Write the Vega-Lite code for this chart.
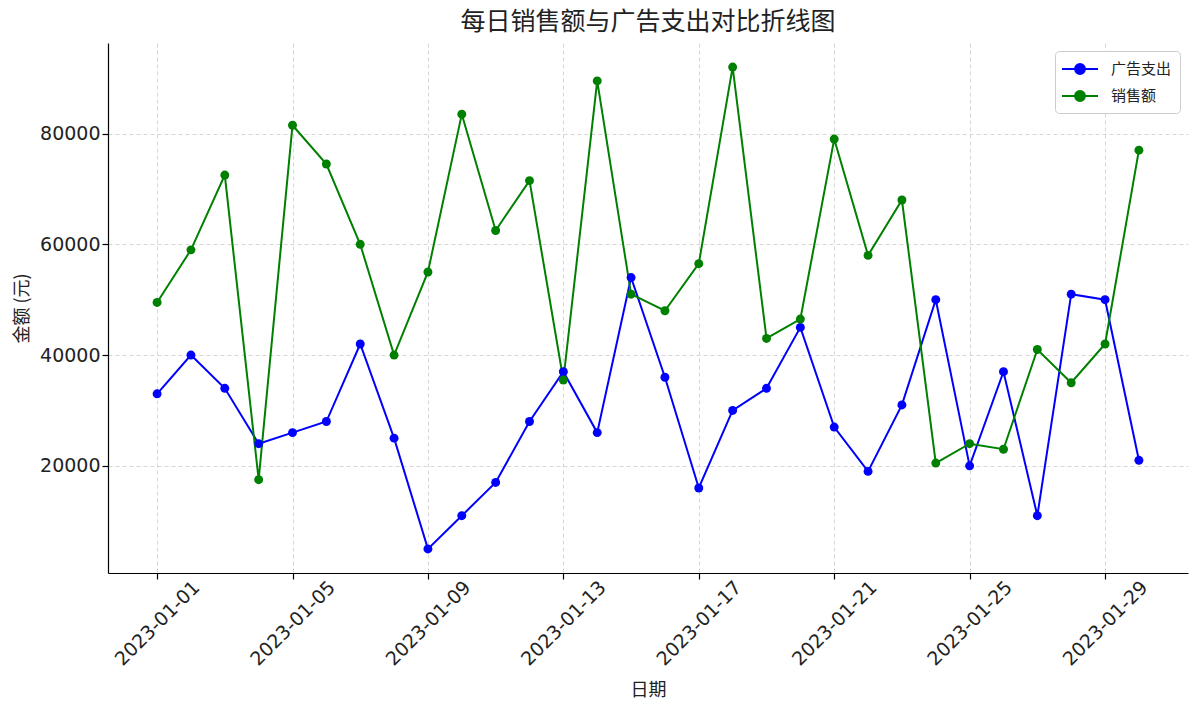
{
  "$schema": "https://vega.github.io/schema/vega-lite/v6.json",
  "autosize": "none",
  "width": 1080,
  "height": 530,
  "padding": {"left": 108, "top": 43, "right": 12, "bottom": 143},
  "background": "white",
  "title": {
    "text": "每日销售额与广告支出对比折线图",
    "fontSize": 25,
    "fontWeight": "normal",
    "color": "#222222",
    "offset": 8,
    "font": "Noto Sans CJK SC"
  },
  "config": {
    "font": "DejaVu Sans",
    "view": {"stroke": null},
    "axis": {
      "labelFontSize": 19,
      "labelColor": "#222222",
      "titleFontSize": 18,
      "titleFontWeight": "normal",
      "titleColor": "#222222",
      "titleFont": "Noto Sans CJK SC",
      "domainColor": "black",
      "domainWidth": 1.2,
      "tickColor": "black",
      "tickSize": 6,
      "tickWidth": 1.2,
      "gridColor": "#cccccc",
      "gridDash": [4, 3],
      "gridWidth": 0.8
    }
  },
  "data": {
    "values": [
      {"date": "2023-01-01", "series": "广告支出", "value": 33000},
      {"date": "2023-01-02", "series": "广告支出", "value": 40000},
      {"date": "2023-01-03", "series": "广告支出", "value": 34000},
      {"date": "2023-01-04", "series": "广告支出", "value": 24000},
      {"date": "2023-01-05", "series": "广告支出", "value": 26000},
      {"date": "2023-01-06", "series": "广告支出", "value": 28000},
      {"date": "2023-01-07", "series": "广告支出", "value": 42000},
      {"date": "2023-01-08", "series": "广告支出", "value": 25000},
      {"date": "2023-01-09", "series": "广告支出", "value": 5000},
      {"date": "2023-01-10", "series": "广告支出", "value": 11000},
      {"date": "2023-01-11", "series": "广告支出", "value": 17000},
      {"date": "2023-01-12", "series": "广告支出", "value": 28000},
      {"date": "2023-01-13", "series": "广告支出", "value": 37000},
      {"date": "2023-01-14", "series": "广告支出", "value": 26000},
      {"date": "2023-01-15", "series": "广告支出", "value": 54000},
      {"date": "2023-01-16", "series": "广告支出", "value": 36000},
      {"date": "2023-01-17", "series": "广告支出", "value": 16000},
      {"date": "2023-01-18", "series": "广告支出", "value": 30000},
      {"date": "2023-01-19", "series": "广告支出", "value": 34000},
      {"date": "2023-01-20", "series": "广告支出", "value": 45000},
      {"date": "2023-01-21", "series": "广告支出", "value": 27000},
      {"date": "2023-01-22", "series": "广告支出", "value": 19000},
      {"date": "2023-01-23", "series": "广告支出", "value": 31000},
      {"date": "2023-01-24", "series": "广告支出", "value": 50000},
      {"date": "2023-01-25", "series": "广告支出", "value": 20000},
      {"date": "2023-01-26", "series": "广告支出", "value": 37000},
      {"date": "2023-01-27", "series": "广告支出", "value": 11000},
      {"date": "2023-01-28", "series": "广告支出", "value": 51000},
      {"date": "2023-01-29", "series": "广告支出", "value": 50000},
      {"date": "2023-01-30", "series": "广告支出", "value": 21000},
      {"date": "2023-01-01", "series": "销售额", "value": 49500},
      {"date": "2023-01-02", "series": "销售额", "value": 59000},
      {"date": "2023-01-03", "series": "销售额", "value": 72500},
      {"date": "2023-01-04", "series": "销售额", "value": 17500},
      {"date": "2023-01-05", "series": "销售额", "value": 81500},
      {"date": "2023-01-06", "series": "销售额", "value": 74500},
      {"date": "2023-01-07", "series": "销售额", "value": 60000},
      {"date": "2023-01-08", "series": "销售额", "value": 40000},
      {"date": "2023-01-09", "series": "销售额", "value": 55000},
      {"date": "2023-01-10", "series": "销售额", "value": 83500},
      {"date": "2023-01-11", "series": "销售额", "value": 62500},
      {"date": "2023-01-12", "series": "销售额", "value": 71500},
      {"date": "2023-01-13", "series": "销售额", "value": 35500},
      {"date": "2023-01-14", "series": "销售额", "value": 89500},
      {"date": "2023-01-15", "series": "销售额", "value": 51000},
      {"date": "2023-01-16", "series": "销售额", "value": 48000},
      {"date": "2023-01-17", "series": "销售额", "value": 56500},
      {"date": "2023-01-18", "series": "销售额", "value": 92000},
      {"date": "2023-01-19", "series": "销售额", "value": 43000},
      {"date": "2023-01-20", "series": "销售额", "value": 46500},
      {"date": "2023-01-21", "series": "销售额", "value": 79000},
      {"date": "2023-01-22", "series": "销售额", "value": 58000},
      {"date": "2023-01-23", "series": "销售额", "value": 68000},
      {"date": "2023-01-24", "series": "销售额", "value": 20500},
      {"date": "2023-01-25", "series": "销售额", "value": 24000},
      {"date": "2023-01-26", "series": "销售额", "value": 23000},
      {"date": "2023-01-27", "series": "销售额", "value": 41000},
      {"date": "2023-01-28", "series": "销售额", "value": 35000},
      {"date": "2023-01-29", "series": "销售额", "value": 42000},
      {"date": "2023-01-30", "series": "销售额", "value": 77000}
    ]
  },
  "mark": {
    "type": "line",
    "strokeWidth": 2,
    "point": {"filled": true, "size": 80, "opacity": 1}
  },
  "encoding": {
    "x": {
      "field": "date",
      "type": "temporal",
      "title": "日期",
      "scale": {
        "type": "utc",
        "domain": [
          {"year": 2022, "month": 12, "date": 30, "hours": 13, "minutes": 12, "utc": true},
          {"year": 2023, "month": 1, "date": 31, "hours": 10, "minutes": 48, "utc": true}
        ]
      },
      "axis": {
        "format": "%Y-%m-%d",
        "labelAngle": -45,
        "labelAlign": "center",
        "labelBaseline": "middle",
        "labelPadding": 44,
        "titlePadding": 12,
        "tickCount": {"interval": "day", "step": 4},
        "grid": true
      }
    },
    "y": {
      "field": "value",
      "type": "quantitative",
      "title": "金额 (元)",
      "scale": {"domain": [650, 96350], "nice": false, "zero": false},
      "axis": {
        "values": [20000, 40000, 60000, 80000],
        "format": "d",
        "titlePadding": 8,
        "grid": true
      }
    },
    "color": {
      "field": "series",
      "type": "nominal",
      "scale": {"domain": ["广告支出", "销售额"], "range": ["#0000ff", "#008000"]},
      "legend": {
        "title": null,
        "orient": "top-right",
        "offset": 8,
        "labelFont": "Noto Sans CJK SC",
        "labelFontSize": 15,
        "labelColor": "#222222",
        "symbolType": "M-2,0L2,0M-0.55,0A0.55,0.55 0 1,1 0.55,0A0.55,0.55 0 1,1 -0.55,0Z",
        "symbolSize": 324,
        "symbolStrokeWidth": 2,
        "symbolOffset": 7,
        "labelOffset": 21,
        "rowPadding": 8,
        "fillColor": "white",
        "strokeColor": "#cccccc",
        "cornerRadius": 4,
        "padding": 8
      }
    }
  }
}
